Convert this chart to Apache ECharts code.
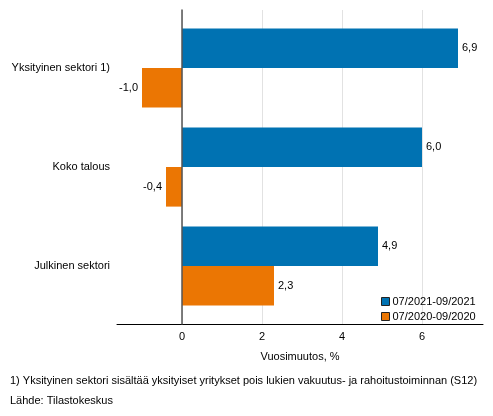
<!DOCTYPE html>
<html><head><meta charset="utf-8">
<script src="https://cdn.jsdelivr.net/npm/echarts@6/dist/echarts.min.js"></script>
<style>html,body{margin:0;padding:0;background:#fff}#c{width:493px;height:416px}</style>
</head><body><div id="c"></div>
<script>
const categories = ['Yksityinen sektori 1)', 'Koko talous', 'Julkinen sektori'];
const seriesNames = ['07/2021-09/2021', '07/2020-09/2020'];
const values2021 = [6.9, 6.0, 4.9];
const values2020 = [-1.0, -0.4, 2.3];
const tickValues = [0, 2, 4, 6];
const footnote = '1) Yksityinen sektori sisältää yksityiset yritykset pois lukien vakuutus- ja rahoitustoiminnan (S12)';
const source = 'Lähde: Tilastokeskus';

const FONT = 'Liberation Sans, Arial, sans-serif';
const fmt = p => p.value.toFixed(1).replace('.', ',');
const XMIN = -1.625, XMAX = 7.525;

const chart = echarts.init(document.getElementById('c'));
chart.setOption({
  animation: false,
  textStyle: { fontFamily: FONT },
  grid: [
    { left: 117, right: 10, top: 18.5, height: 297 },
    { left: 117, right: 10, top: 10, height: 314 }
  ],
  xAxis: [
    { type: 'value', gridIndex: 0, min: XMIN, max: XMAX, show: false },
    { type: 'value', gridIndex: 1, min: XMIN, max: XMAX,
      axisLine: { show: true, onZero: false, lineStyle: { color: '#000', width: 1 } },
      axisTick: { show: false, customValues: tickValues },
      axisLabel: { customValues: tickValues, color: '#000', fontSize: 11, margin: 7, fontFamily: FONT },
      splitLine: { show: true, lineStyle: { color: '#e2e2e2', width: 1 } },
      name: 'Vuosimuutos, %', nameLocation: 'middle', nameGap: 27,
      nameTextStyle: { color: '#000', fontSize: 11, fontFamily: FONT }
    }
  ],
  yAxis: [
    { type: 'category', gridIndex: 0, data: categories, inverse: true,
      axisLine: { show: false }, axisTick: { show: false },
      axisLabel: { color: '#000', fontSize: 11, margin: 7, fontFamily: FONT },
      splitLine: { show: false } },
    { type: 'value', gridIndex: 1, min: 0, max: 1, z: 10,
      axisLine: { show: true, onZero: true, lineStyle: { color: '#555', width: 1.5 } },
      axisTick: { show: false }, axisLabel: { show: false }, splitLine: { show: false } }
  ],
  legend: {
    data: seriesNames, orient: 'vertical', left: 376, top: 291,
    itemWidth: 8, itemHeight: 8, itemGap: 4, icon: 'rect',
    itemStyle: { borderColor: '#222', borderWidth: 1 },
    textStyle: { color: '#000', fontSize: 11, fontFamily: FONT, padding: [0, 0, 0, -2] }
  },
  series: [
    { name: seriesNames[0], type: 'bar', xAxisIndex: 0, yAxisIndex: 0, data: values2021,
      barCategoryGap: '20%', barGap: '0%',
      itemStyle: { color: '#0072b2' },
      label: { show: true, position: 'right', distance: 4, color: '#000', fontSize: 11, formatter: fmt } },
    { name: seriesNames[1], type: 'bar', xAxisIndex: 0, yAxisIndex: 0,
      data: values2020.map(v => ({ value: v, label: { position: v < 0 ? 'left' : 'right' } })),
      barCategoryGap: '20%', barGap: '0%',
      itemStyle: { color: '#eb7603' },
      label: { show: true, position: 'right', distance: 4, color: '#000', fontSize: 11, formatter: fmt } }
  ],
  graphic: [
    { type: 'text', left: 10, top: 375, style: { text: footnote, fill: '#000', font: '11px ' + FONT } },
    { type: 'text', left: 10, top: 395, style: { text: source, fill: '#000', font: '11px ' + FONT } }
  ]
});
</script>
</body></html>
